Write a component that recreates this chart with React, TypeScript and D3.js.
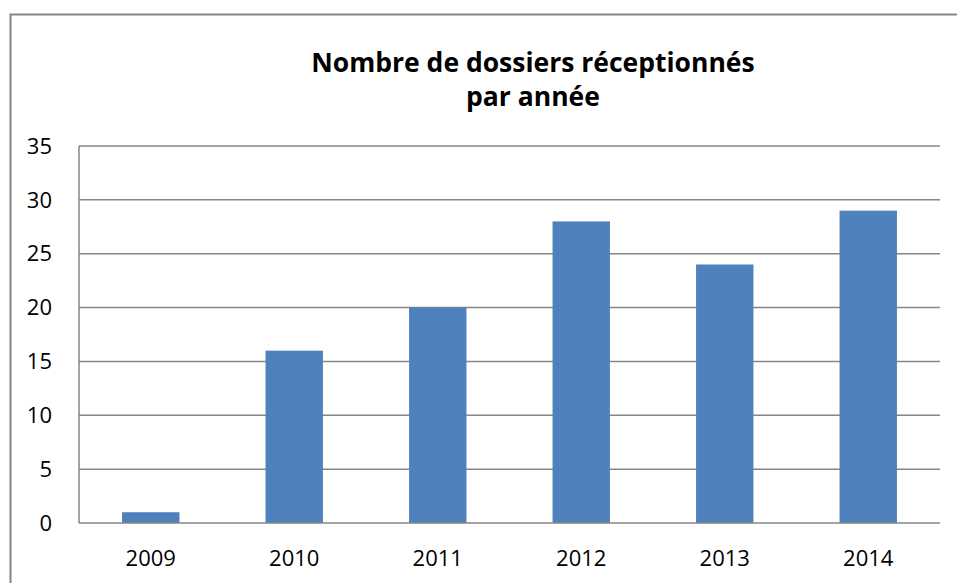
import React from 'react';
import * as d3 from 'd3';

// Données
const years = ['2009', '2010', '2011', '2012', '2013', '2014'];
const dossiers = [1, 16, 20, 28, 24, 29];
const yTicks = [0, 5, 10, 15, 20, 25, 30, 35];
const titleLines = ['Nombre de dossiers réceptionnés', 'par année'];

const W = 957;
const H = 583;
const plot = { left: 79, right: 940, top: 146, bottom: 523 };

const App = () => {
  const x = d3
    .scaleBand()
    .domain(years)
    .range([plot.left, plot.right])
    .paddingInner(0.6)
    .paddingOuter(0.3);

  const y = d3.scaleLinear().domain([0, 35]).range([plot.bottom, plot.top]);

  const grid = '#868686';
  const font = "'Open Sans', 'Noto Sans', sans-serif";

  return (
    <svg
      width={W}
      height={H}
      style={{ position: 'absolute', left: 0, top: 0, background: '#fff' }}
    >
      {/* Cadre extérieur */}
      <rect x={10.5} y={14.5} width={980} height={600} fill="none" stroke={grid} strokeWidth={2} />

      {/* Titre */}
      {titleLines.map((t, i) => (
        <text
          key={i}
          x={533}
          y={72 + i * 34}
          textAnchor="middle"
          fontFamily={font}
          fontWeight="bold"
          fontSize={26.5}
          fill="#000"
        >
          {t}
        </text>
      ))}

      {/* Grille horizontale */}
      {yTicks.filter(v => v > 0).map(v => (
        <line
          key={v}
          x1={plot.left}
          x2={plot.right}
          y1={y(v)}
          y2={y(v)}
          stroke={grid}
          strokeWidth={1.5}
        />
      ))}

      {/* Barres */}
      {years.map((yr, i) => (
        <rect
          key={yr}
          x={x(yr)}
          y={y(dossiers[i])}
          width={x.bandwidth()}
          height={y(0) - y(dossiers[i])}
          fill="#4F81BD"
        />
      ))}

      {/* Axes */}
      <line x1={plot.left} x2={plot.left} y1={plot.top} y2={plot.bottom} stroke={grid} strokeWidth={1.5} />
      <line x1={plot.left} x2={plot.right} y1={plot.bottom} y2={plot.bottom} stroke={grid} strokeWidth={1.5} />

      {/* Étiquettes de l'axe Y */}
      {yTicks.map(v => (
        <text
          key={v}
          x={52}
          y={y(v)}
          dy="0.35em"
          textAnchor="end"
          fontFamily={font}
          fontSize={22}
          fill="#000"
        >
          {v}
        </text>
      ))}

      {/* Étiquettes de l'axe X */}
      {years.map(yr => (
        <text
          key={yr}
          x={(x(yr) as number) + x.bandwidth() / 2}
          y={566}
          textAnchor="middle"
          fontFamily={font}
          fontSize={22}
          fill="#000"
        >
          {yr}
        </text>
      ))}
    </svg>
  );
};

export default App;
